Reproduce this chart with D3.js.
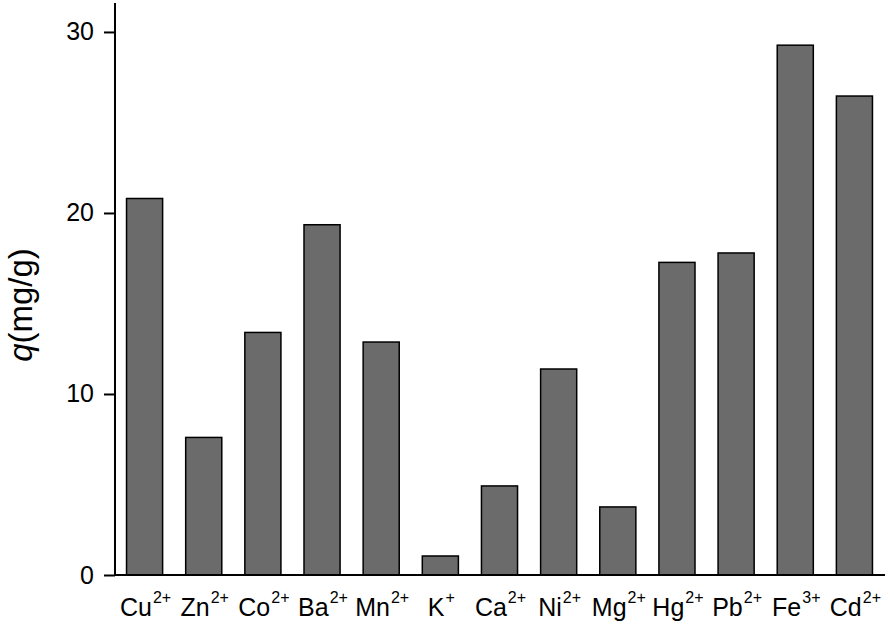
<!DOCTYPE html>
<html>
<head>
<meta charset="utf-8">
<script src="https://cdn.jsdelivr.net/npm/d3@7"></script>
<style>
  html, body { margin: 0; padding: 0; background: #fff; }
  svg { display: block; font-family: "Liberation Sans", Arial, sans-serif; }
</style>
</head>
<body>
<svg id="chart" width="894" height="625"></svg>
<script>
const ions = ["Cu", "Zn", "Co", "Ba", "Mn", "K", "Ca", "Ni", "Mg", "Hg", "Pb", "Fe", "Cd"];
const charges = ["2+", "2+", "2+", "2+", "2+", "+", "2+", "2+", "2+", "2+", "2+", "3+", "2+"];
const qValues = [20.8, 7.6, 13.4, 19.35, 12.87, 1.05, 4.92, 11.38, 3.76, 17.27, 17.79, 29.27, 26.46];
const yTicks = [0, 10, 20, 30];
const yLabel = "(mg/g)";

const data = ions.map((ion, i) => ({ ion, charge: charges[i], q: qValues[i] }));

const svg = d3.select("#chart");
const mLeft = 115, mRight = 884, mTop = 3, mBottom = 575;

const x = d3.scaleBand().domain(ions).range([mLeft, mRight]).paddingInner(0.39).paddingOuter(0.195);
const y = d3.scaleLinear().domain([0, 31.6]).range([mBottom, mTop]);

// bars
svg.append("g").selectAll("rect").data(data).join("rect")
  .attr("x", d => x(d.ion))
  .attr("y", d => y(d.q))
  .attr("width", x.bandwidth())
  .attr("height", d => y(0) - y(d.q))
  .attr("fill", "#6b6b6b")
  .attr("stroke", "#000")
  .attr("stroke-width", 1.5);

// y axis
const yAxis = svg.append("g").attr("transform", `translate(${mLeft},0)`)
  .call(d3.axisLeft(y).tickValues(yTicks).tickSize(11).tickPadding(10).tickFormat(d3.format("d")));
yAxis.select(".domain").attr("d", `M0,${mTop}V${mBottom}`).attr("stroke-width", 2).attr("stroke", "#000");
yAxis.selectAll(".tick line").attr("stroke-width", 2).attr("stroke", "#000");
yAxis.selectAll(".tick text").attr("font-size", 25).attr("fill", "#000")
  .attr("font-family", "'Liberation Sans', Arial, sans-serif");

// x axis line
svg.append("line")
  .attr("x1", mLeft - 1).attr("x2", 885)
  .attr("y1", y(0)).attr("y2", y(0))
  .attr("stroke", "#000").attr("stroke-width", 2);

// x labels
const xl = svg.append("g").selectAll("text").data(data).join("text")
  .attr("x", d => x(d.ion) + x.bandwidth() / 2 + 1)
  .attr("y", 616)
  .attr("text-anchor", "middle")
  .attr("font-size", 25)
  .attr("fill", "#000");
xl.append("tspan").text(d => d.ion);
xl.append("tspan").attr("dy", -13).attr("dx", 1).attr("font-size", 16).text(d => d.charge);

// y label
const yl = svg.append("text")
  .attr("transform", "translate(32,305) rotate(-90)")
  .attr("text-anchor", "middle")
  .attr("font-size", 33)
  .attr("fill", "#000");
yl.append("tspan").attr("font-style", "italic").text("q");
yl.append("tspan").text(yLabel);
</script>
</body>
</html>
